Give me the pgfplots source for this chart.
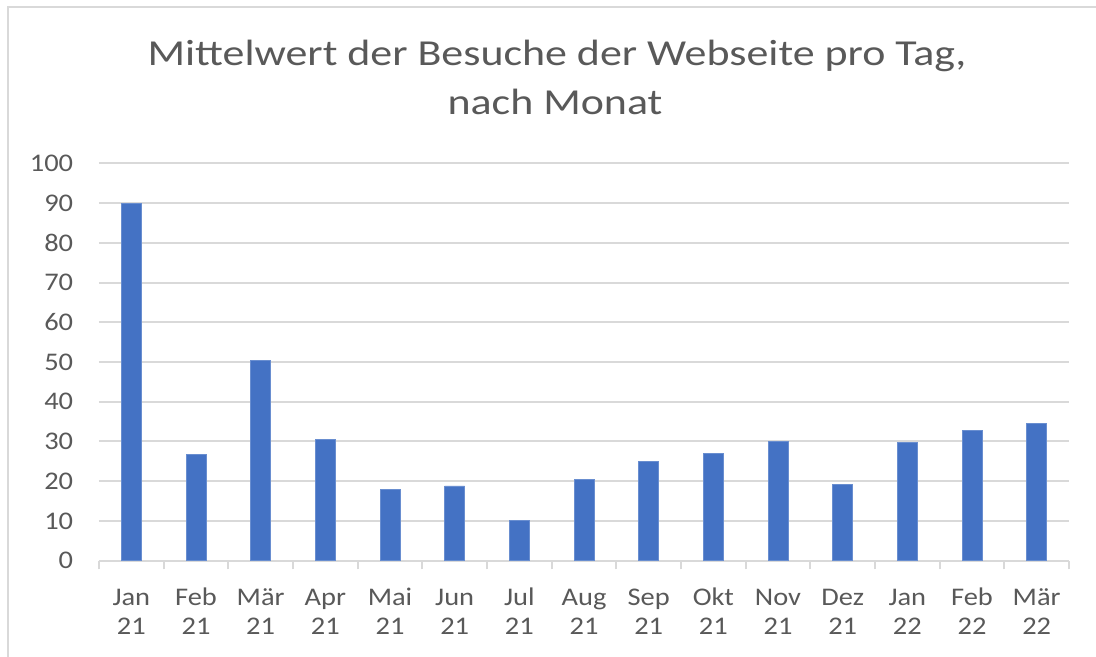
\documentclass[border=0pt]{standalone}
\usepackage{fontspec}
\setmainfont{Carlito}[FakeStretch=1.12]
\newfontfamily\titlefont{Carlito}[FakeStretch=1.2]
\usepackage{pgfplots}
\pgfplotsset{compat=1.18}
\definecolor{barblue}{HTML}{4472C4}
\definecolor{txtgray}{HTML}{595959}
\definecolor{gridgray}{HTML}{D9D9D9}
\begin{document}
\begin{tikzpicture}
\path[use as bounding box] (0,0) rectangle (548bp,328.5bp);
\draw[gridgray, line width=1bp] (4bp,0) -- (4bp,325bp) -- (548bp,325bp);
\node[anchor=base, text=txtgray, font=\titlefont\fontsize{18.3bp}{24.5bp}\selectfont, inner sep=0pt] at (278.5bp,295.5bp) {Mittelwert der Besuche der Webseite pro Tag,};
\node[anchor=base, text=txtgray, font=\titlefont\fontsize{18.3bp}{24.5bp}\selectfont, inner sep=0pt] at (277.5bp,271bp) {nach Monat};
\begin{axis}[
  at={(49.5bp,48.15bp)}, anchor=south west,
  scale only axis, width=485bp, height=198.7bp,
  xmin=-0.5, xmax=14.5, ymin=0, ymax=100,
  ybar, bar width=10bp,
  axis x line*=bottom, axis y line*=left,
  y axis line style={draw=none},
  x axis line style={draw=gridgray, line width=1bp},
  ytick={0,10,...,100},
  ymajorgrids, grid style={draw=gridgray, line width=1bp},
  ytick style={draw=none},
  xtick={0,...,14},
  xticklabels={{Jan\\21},{Feb\\21},{Mär\\21},{Apr\\21},{Mai\\21},{Jun\\21},{Jul\\21},{Aug\\21},{Sep\\21},{Okt\\21},{Nov\\21},{Dez\\21},{Jan\\22},{Feb\\22},{Mär\\22}},
  tick align=outside,
  major x tick style={draw=none},
  minor xtick={-0.5,0.5,...,14.5},
  minor tick length=4.35bp,
  minor x tick style={draw=gridgray, line width=1bp},
  ticklabel style={text=txtgray, font=\fontsize{12.7bp}{14.5bp}\selectfont},
  xticklabel style={align=center, anchor=base, inner sep=0pt, yshift=-32.5bp},
  yticklabel style={anchor=east, inner sep=0pt, xshift=-8.5bp},
  /pgf/number format/assume math mode=true,
]
\addplot[fill=barblue, draw=barblue!80!white] coordinates {
(0,90) (1,26.8) (2,50.5) (3,30.6) (4,18) (5,18.8) (6,10.1) (7,20.4)
(8,24.9) (9,26.9) (10,30.1) (11,19.1) (12,29.8) (13,32.8) (14,34.6)};
\end{axis}
\end{tikzpicture}
\end{document}
